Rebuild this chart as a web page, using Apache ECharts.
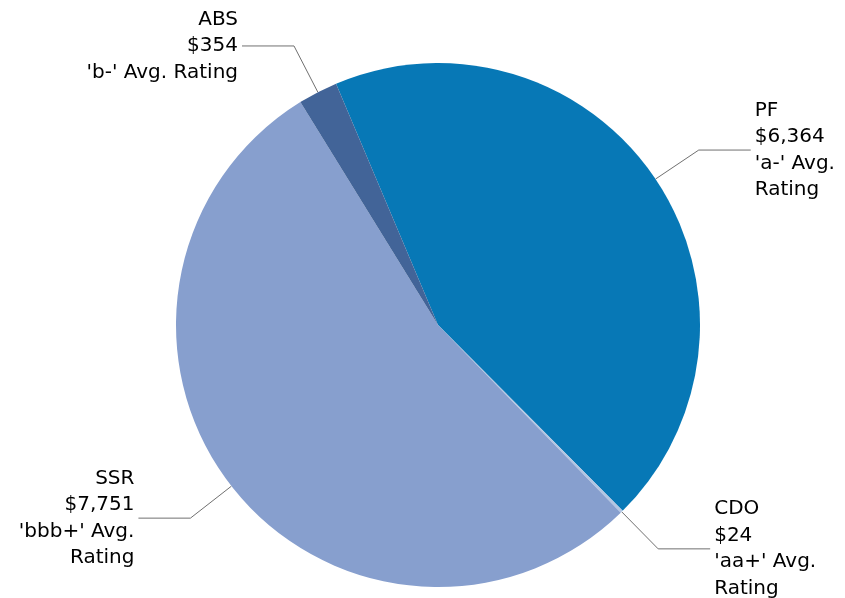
<!DOCTYPE html>
<html>
<head>
<meta charset="utf-8">
<script src="https://cdn.jsdelivr.net/npm/echarts@6/dist/echarts.min.js"></script>
<style>
html,body{margin:0;padding:0;background:#fff;}
#c{width:845px;height:598px;}
</style>
</head>
<body>
<div id="c"></div>
<script>
const categories = ['PF', 'CDO', 'SSR', 'ABS'];
const values = [6364, 24, 7751, 354];
const ratings = ["'a-' Avg.\nRating", "'aa+' Avg.\nRating", "'bbb+' Avg.\nRating", "'b-' Avg. Rating"];
const colors = ['#0778b6', '#b3c6e3', '#879fce', '#426498'];

const chart = echarts.init(document.getElementById('c'));
const data = categories.map((c, i) => ({
  name: c,
  value: values[i],
  itemStyle: { color: colors[i] },
  label: { formatter: c + '\n$' + values[i].toLocaleString('en-US') + '\n' + ratings[i] }
}));
chart.setOption({
  animation: false,
  backgroundColor: '#ffffff',
  series: [{
    type: 'pie',
    center: [438, 325],
    radius: 262,
    startAngle: 112.9,
    clockwise: true,
    avoidLabelOverlap: false,
    data: data,
    itemStyle: { borderWidth: 0 },
    label: {
      show: true,
      fontFamily: 'DejaVu Sans',
      fontSize: 20,
      lineHeight: 26.5,
      color: '#000000',
      distanceToLabelLine: 4
    },
    labelLine: {
      show: true,
      length: 52,
      length2: 52,
      lineStyle: { color: '#707070', width: 1 }
    },
    emphasis: { disabled: true }
  }]
});
</script>
</body>
</html>
